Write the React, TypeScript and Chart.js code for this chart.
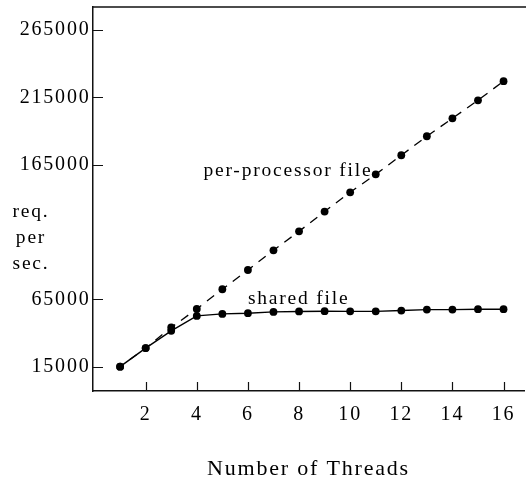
import { useEffect, useRef } from "react";
import { Chart, registerables } from "chart.js";

Chart.register(...registerables);

// ---- data ----
const threads = [1, 2, 3, 4, 5, 6, 7, 8, 9, 10, 11, 12, 13, 14, 15, 16];
const perProcessorFile = [15000, 28800, 44100, 57900, 72500, 86800, 101400, 115500, 130200, 144500, 157800, 172000, 186100, 199400, 212800, 227000];
const sharedFile = [15000, 28800, 41600, 52700, 54200, 54700, 55700, 56000, 56200, 56100, 56100, 56700, 57400, 57400, 57700, 57700];
const xTickValues = [2, 4, 6, 8, 10, 12, 14, 16];
const yTickValues = [15000, 65000, 165000, 215000, 265000];
const seriesNames = ["per-processor file", "shared file"];
const seriesLabelAnchors = [
  { x: 4.26, y: 156600 },
  { x: 6.0, y: 61300 },
];
const yAxisCaption = ["req.", "per", "sec."];
const yAxisCaptionValue = 115000;
const xAxisCaption = "Number of Threads";

const FONT = '"Liberation Serif", "Times New Roman", serif';
const SPACING = "1.8px";

const framePlugin = {
  id: "frame",
  beforeLayout(chart: any) {
    chart.ctx.letterSpacing = SPACING;
  },
  beforeDraw(chart: any) {
    chart.ctx.letterSpacing = SPACING;
  },
  afterDraw(chart: any) {
    const { ctx, chartArea, scales } = chart;
    const xs = scales.x;
    const ys = scales.y;
    ctx.save();
    ctx.strokeStyle = "#111";
    ctx.lineWidth = 1.5;
    ctx.beginPath();
    ctx.moveTo(chartArea.left, chartArea.top);
    ctx.lineTo(chartArea.right + 2, chartArea.top);
    ctx.stroke();

    ctx.lineWidth = 1.2;
    ctx.beginPath();
    for (const v of xTickValues) {
      const px = Math.round(xs.getPixelForValue(v)) + 0.5;
      ctx.moveTo(px, chartArea.bottom);
      ctx.lineTo(px, chartArea.bottom - 9);
    }
    for (const v of yTickValues) {
      const py = Math.round(ys.getPixelForValue(v)) + 0.5;
      ctx.moveTo(chartArea.left, py);
      ctx.lineTo(chartArea.left + 10, py);
    }
    ctx.stroke();

    ctx.letterSpacing = SPACING;
    ctx.fillStyle = "#000";
    ctx.font = `19.5px ${FONT}`;
    ctx.textAlign = "left";
    ctx.textBaseline = "alphabetic";
    seriesNames.forEach((name, i) => {
      const a = seriesLabelAnchors[i];
      ctx.fillText(name, xs.getPixelForValue(a.x), ys.getPixelForValue(a.y));
    });

    ctx.textAlign = "center";
    const mid = ys.getPixelForValue(yAxisCaptionValue);
    yAxisCaption.forEach((t, i) => {
      ctx.fillText(t, ys.left + 31, mid + (i - 1) * 26 + 11);
    });
    ctx.restore();
  },
};

export default function App() {
  const ref = useRef<HTMLCanvasElement | null>(null);

  useEffect(() => {
    if (!ref.current) return;
    const chart = new Chart(ref.current, {
      type: "line",
      data: {
        datasets: [
          {
            label: seriesNames[0],
            data: threads.map((t, i) => ({ x: t, y: perProcessorFile[i] })),
            borderColor: "#000",
            backgroundColor: "#000",
            borderWidth: 1.3,
            borderDash: [9, 7.2],
            borderDashOffset: 4.5,
            pointRadius: 3.9,
            pointBorderWidth: 0,
            pointBackgroundColor: "#000",
            tension: 0,
          },
          {
            label: seriesNames[1],
            data: threads.map((t, i) => ({ x: t, y: sharedFile[i] })),
            borderColor: "#000",
            backgroundColor: "#000",
            borderWidth: 1.4,
            pointRadius: 3.9,
            pointBorderWidth: 0,
            pointBackgroundColor: "#000",
            tension: 0,
          },
        ],
      },
      options: {
        animation: false,
        responsive: false,
        devicePixelRatio: 1,
        layout: { padding: { top: 7, right: 0, left: 0, bottom: 0 } },
        plugins: {
          legend: { display: false },
          tooltip: { enabled: false },
        },
        scales: {
          x: {
            type: "linear",
            min: -0.06,
            max: 16.8,
            grid: { display: false, drawTicks: false },
            border: { display: true, color: "#111", width: 1.5 },
            afterBuildTicks: (scale: any) => {
              scale.ticks = xTickValues.map((v) => ({ value: v }));
            },
            ticks: {
              color: "#000",
              padding: 12,
              maxRotation: 0,
              autoSkip: false,
              font: { family: FONT, size: 20 },
              callback: (v: any) => String(v),
            },
            title: {
              display: true,
              text: xAxisCaption,
              color: "#000",
              font: { family: FONT, size: 22 },
              padding: { top: 0, bottom: 3 },
            },
            afterFit: (scale: any) => {
              scale.height = 94;
              scale.paddingLeft = 0;
              scale.paddingRight = 0;
            },
          },
          y: {
            type: "linear",
            min: -3050,
            max: 282080,
            grid: { display: false, drawTicks: false },
            border: { display: true, color: "#111", width: 1.5 },
            afterBuildTicks: (scale: any) => {
              scale.ticks = yTickValues.map((v) => ({ value: v }));
            },
            ticks: {
              color: "#000",
              padding: 2.5,
              autoSkip: false,
              font: { family: FONT, size: 20 },
              callback: (v: any) => String(v),
            },
            afterFit: (scale: any) => {
              scale.width = 93;
              scale.paddingTop = 0;
              scale.paddingBottom = 0;
            },
          },
        },
      },
      plugins: [framePlugin],
    });
    return () => chart.destroy();
  }, []);

  return (
    <div style={{ position: "fixed", left: 0, top: 0, width: 528, height: 485, background: "#fff" }}>
      <canvas ref={ref} width={528} height={485} style={{ display: "block" }} />
    </div>
  );
}
